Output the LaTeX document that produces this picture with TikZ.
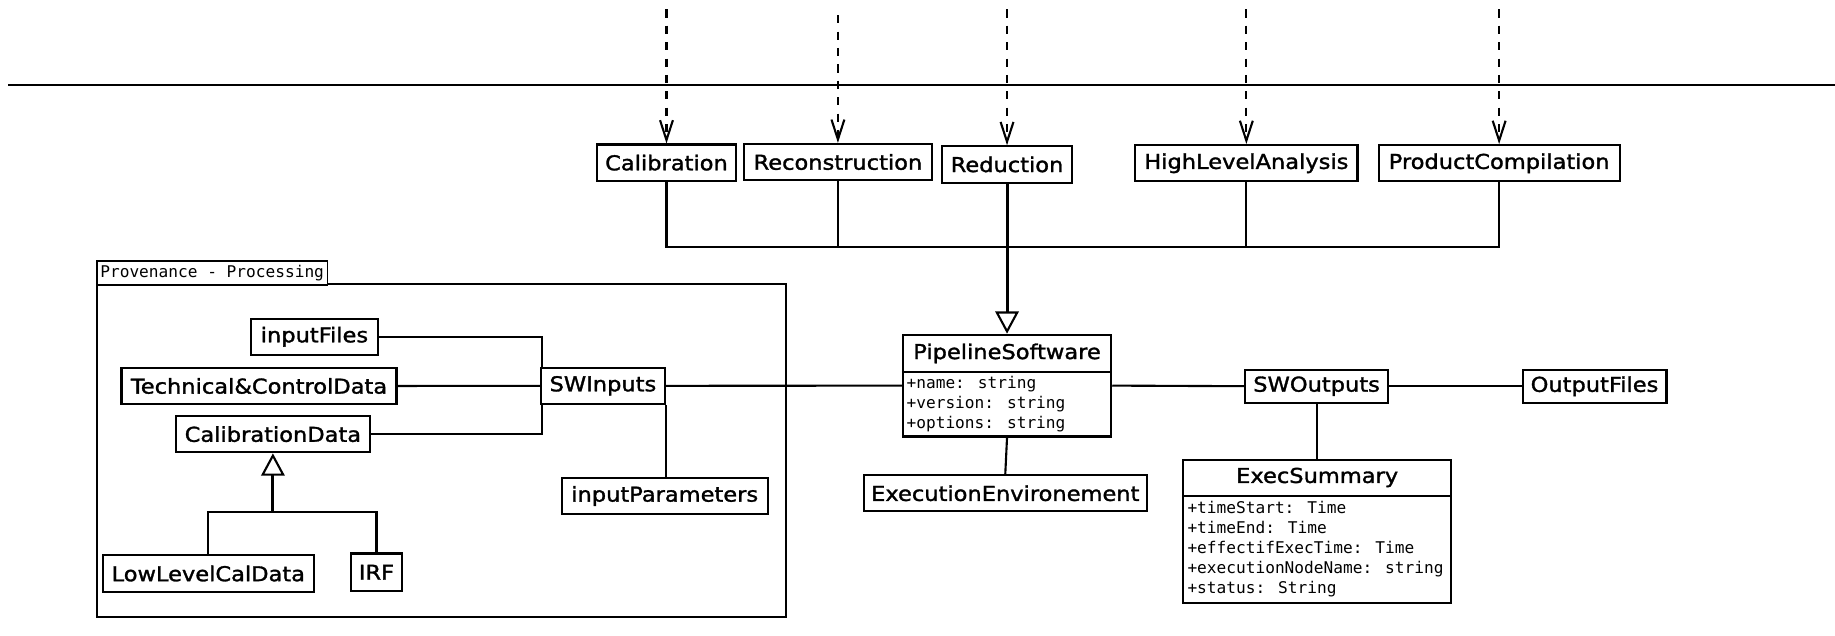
\documentclass[tikz,border=0pt]{standalone}
\usepackage{fontspec}
\usetikzlibrary{arrows.meta}
\newfontfamily\umlname[FakeStretch=1.1, FakeBold=1.5]{DejaVu Sans}
\newfontfamily\umlattr{DejaVu Sans Mono}

\tikzset{
  cls/.style 2 args={draw, line width=1.8pt, fill=white, inner sep=0pt,
    minimum width=#1, minimum height=#2,
    font=\umlname\fontsize{17.5}{20}\selectfont},
  attr/.style={anchor=base west, inner sep=0pt,
    font=\umlattr\fontsize{13.8}{17}\selectfont},
  link/.style={line width=1.8pt},
  gen/.style={line width=2.5pt,
    -{Triangle[open, length=19pt, width=20pt, line width=1.8pt]}},
  dep/.style={line width=1.8pt, dash pattern=on 7pt off 7pt,
    -{Straight Barb[length=17pt, width=11pt, line width=1.8pt]}},
}

\begin{document}
\begin{tikzpicture}[x=1pt, y=-1pt]
\useasboundingbox (0,0) rectangle (1568,543);

% system boundary
\coordinate (edgeL) at (7,72.5);
\coordinate (edgeR) at (1568,72.5);
\draw[line width=2pt] (edgeL) -- (edgeR);

% processing steps
\node[cls={119pt}{31pt}] (cal) at (569.5,139) {Calibration};
\node[cls={160pt}{31pt}] (rec) at (716,138.5) {Reconstruction};
\node[cls={111pt}{31pt}] (red) at (860.5,140.5) {Reduction};
\node[cls={190pt}{31pt}] (hla) at (1065,139.5) {HighLevelAnalysis};
\node[cls={206pt}{31pt}] (pc) at (1281,139.5) {ProductCompilation};

% incoming dependencies
\coordinate (calsrc) at (569.5,8);
\coordinate (recsrc) at (716,13);
\coordinate (redsrc) at (860.5,8);
\coordinate (hlasrc) at (1065,8);
\coordinate (pcsrc) at (1281,8);
\draw[dep] (calsrc) -- (cal.north);
\draw[dep] (recsrc) -- (rec.north);
\draw[dep] (redsrc) -- (red.north);
\draw[dep] (hlasrc) -- (hla.north);
\draw[dep] (pcsrc) -- (pc.north);

% pipeline software
\node[cls={178pt}{87pt}] (ps) at (860.5,329.5) {};
\node[inner sep=0pt, font=\umlname\fontsize{17.5}{20}\selectfont] (pst) at (860.5,302) {PipelineSoftware};
\coordinate (psdiv) at (860.5,318);
\draw[link] (ps.west |- psdiv) -- (ps.east |- psdiv);
\node[attr] (psa1) at (774.5,331.7) {+name: string};
\node[attr] (psa2) at (774.5,348.8) {+version: string};
\node[attr] (psa3) at (774.5,365.9) {+options: string};

% generalisation of the steps
\coordinate (bus) at (860.5,211);
\draw[link] (cal.south) -- (cal.south |- bus) -- (pc.south |- bus) -- (pc.south);
\draw[link] (rec.south) -- (rec.south |- bus);
\draw[link] (hla.south) -- (hla.south |- bus);
\draw[gen] (red.south) -- (ps.north);

\node[cls={242pt}{31pt}] (env) at (859,421.5) {ExecutionEnvironement};
\draw[link] (ps.south) -- (env.north);

% outputs
\node[cls={122pt}{28pt}] (swo) at (1125,330) {SWOutputs};
\node[cls={123pt}{28pt}] (outf) at (1362.5,330) {OutputFiles};
\draw[link] (ps.east) -- (swo.west);
\draw[link] (swo.east) -- (outf.west);

\node[cls={229pt}{122pt}] (es) at (1125.5,454) {};
\node[inner sep=0pt, font=\umlname\fontsize{17.5}{20}\selectfont] (est) at (1125.5,408) {ExecSummary};
\coordinate (esdiv) at (1125.5,423.5);
\draw[link] (es.west |- esdiv) -- (es.east |- esdiv);
\node[attr] (esa1) at (1014.5,439) {+timeStart: Time};
\node[attr] (esa2) at (1014.5,456.1) {+timeEnd: Time};
\node[attr] (esa3) at (1014.5,473.2) {+effectifExecTime: Time};
\node[attr] (esa4) at (1014.5,490.3) {+executionNodeName: string};
\node[attr] (esa5) at (1014.5,507.4) {+status: String};
\draw[link] (swo.south) -- (swo.south |- es.north);

% provenance package
\node[draw, line width=1.8pt, minimum width=589pt, minimum height=284pt, inner sep=0pt] (pkg) at (377.4,384.9) {};
\node[draw, line width=1.6pt, fill=white, minimum width=197pt, minimum height=20.5pt, inner sep=0pt,
      font=\umlattr\fontsize{13.8}{17}\selectfont] (pkgtab) at (181.3,233.2) {Provenance - Processing};

\node[cls={109pt}{31pt}] (ifiles) at (268.7,287.7) {inputFiles};
\node[cls={235pt}{31pt}] (tcd) at (221.3,329.8) {Technical\&ControlData};
\node[cls={166pt}{31pt}] (cd) at (233.2,371) {CalibrationData};
\node[cls={106pt}{31pt}] (swi) at (515.2,329.7) {SWInputs};
\node[cls={176pt}{31pt}] (ip) at (568,423.8) {inputParameters};
\node[cls={180pt}{32pt}] (llcd) at (178,490.1) {LowLevelCalData};
\node[cls={44pt}{32pt}] (irf) at (321.7,489) {IRF};

\draw[link] (ifiles.east) -- ([xshift=1.5pt]swi.north west |- ifiles.east) -- ([xshift=1.5pt]swi.north west);
\draw[link] (tcd.east) -- (swi.west);
\draw[link] (cd.east) -- ([xshift=1.5pt]swi.south west |- cd.east) -- ([xshift=1.5pt]swi.south west);
\draw[link] (swi.south east) -- (swi.south east |- ip.north);
\draw[link] (swi.east) -- (ps.west);

\coordinate (cdbus) at (233.2,437.8);
\draw[link] (llcd.north) -- (llcd.north |- cdbus) -- (irf.north |- cdbus) -- (irf.north);
\draw[gen] (cdbus) -- (cd.south);
\end{tikzpicture}
\end{document}
